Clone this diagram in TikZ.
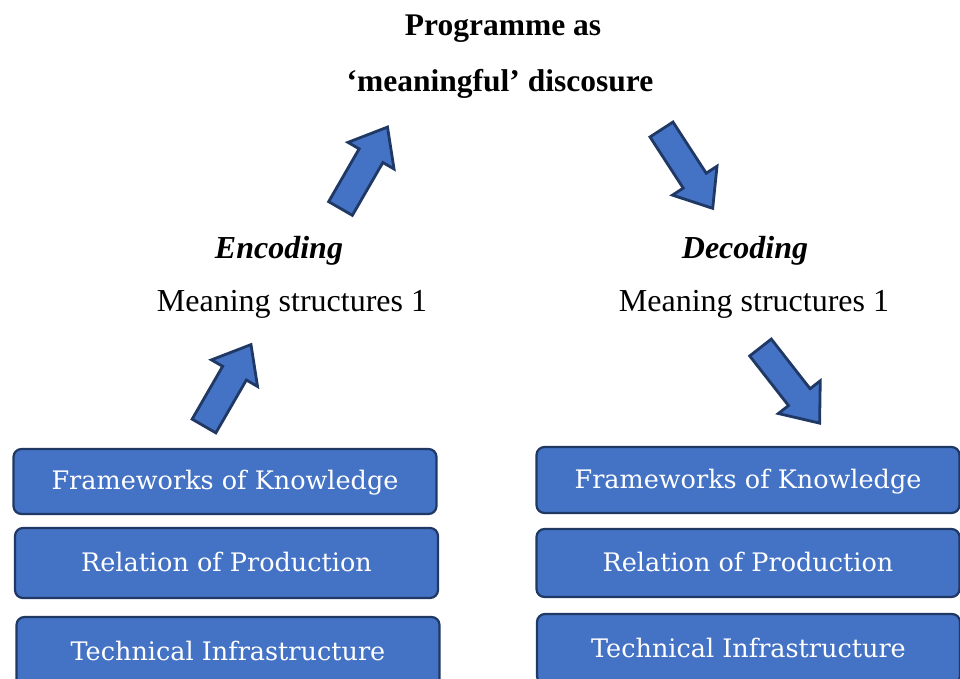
\documentclass[tikz,border=0pt]{standalone}
\usepackage{fontspec}
\setmainfont{Liberation Serif}
\newfontfamily\boxfont{DejaVu Serif}
\usetikzlibrary{positioning}
\definecolor{box}{RGB}{68, 114, 196}
\definecolor{edge}{RGB}{32, 56, 100}
\tikzset{
  layer/.style={draw=edge, fill=box, line width=2.2pt, rounded corners=8pt, text=white,
    font=\boxfont\fontsize{25.5}{30}\selectfont, text height=18pt, text depth=2pt,
    inner sep=0pt, minimum width=423pt},
  barrow/.style={draw=edge, fill=box, line width=2.8pt, line join=miter},
  txt/.style={anchor=base, font=\fontsize{32}{38}\selectfont},
  head/.style={anchor=base, font=\bfseries\fontsize{31.5}{38}\selectfont}
}
\begin{document}
\begin{tikzpicture}[x=1pt, y=-1pt]
      \useasboundingbox (0, 0) rectangle (960, 679);
      \clip (0, 0) rectangle (960, 679);
      % title
      \node[head] (t1) at (503, 36) {Programme as};
      \node[head] (t2) at (500, 92) {`meaningful' discosure};
      % left side
      \node[txt, font=\bfseries\itshape\fontsize{32}{38}\selectfont] (enc) at (279, 258) {Encoding};
      \node[txt] (encm) at (292, 311) {Meaning structures 1};
      \node[layer, minimum height=65pt] (lk) at (225, 481.5) {Frameworks of Knowledge};
      \node[layer, minimum height=70pt] (lp) at (226.5, 563) {Relation of Production};
      \node[layer, minimum height=70pt] (li) at (228, 652) {Technical Infrastructure};
      % right side
      \node[txt, font=\bfseries\itshape\fontsize{32}{38}\selectfont] (dec) at (745, 258) {Decoding};
      \node[txt] (decm) at (754, 311) {Meaning structures 1};
      \node[layer, minimum height=66pt] (rk) at (748, 480) {Frameworks of Knowledge};
      \node[layer, minimum height=68pt] (rp) at (748, 563) {Relation of Production};
      \node[layer, minimum height=70pt] (ri) at (748.5, 649) {Technical Infrastructure};
      % block arrows
      \draw[barrow, shift={(340.5, 208.5)}, rotate=60]
        (0, -13.7) -- (61, -13.7) -- (61, -26.6) -- (94, 0) -- (61, 26.6) -- (61, 13.7) -- (0, 13.7) -- cycle;
      \draw[barrow, shift={(661.5, 129.5)}, rotate=-57]
        (0, -13.7) -- (61, -13.7) -- (61, -26.6) -- (94, 0) -- (61, 26.6) -- (61, 13.7) -- (0, 13.7) -- cycle;
      \draw[barrow, shift={(204, 426)}, rotate=60]
        (0, -13.7) -- (61, -13.7) -- (61, -26.6) -- (94, 0) -- (61, 26.6) -- (61, 13.7) -- (0, 13.7) -- cycle;
      \draw[barrow, shift={(760.5, 347.5)}, rotate=-52]
        (0, -13.7) -- (63, -13.7) -- (63, -26.6) -- (96, 0) -- (63, 26.6) -- (63, 13.7) -- (0, 13.7) -- cycle;
    \end{tikzpicture}
\end{document}
